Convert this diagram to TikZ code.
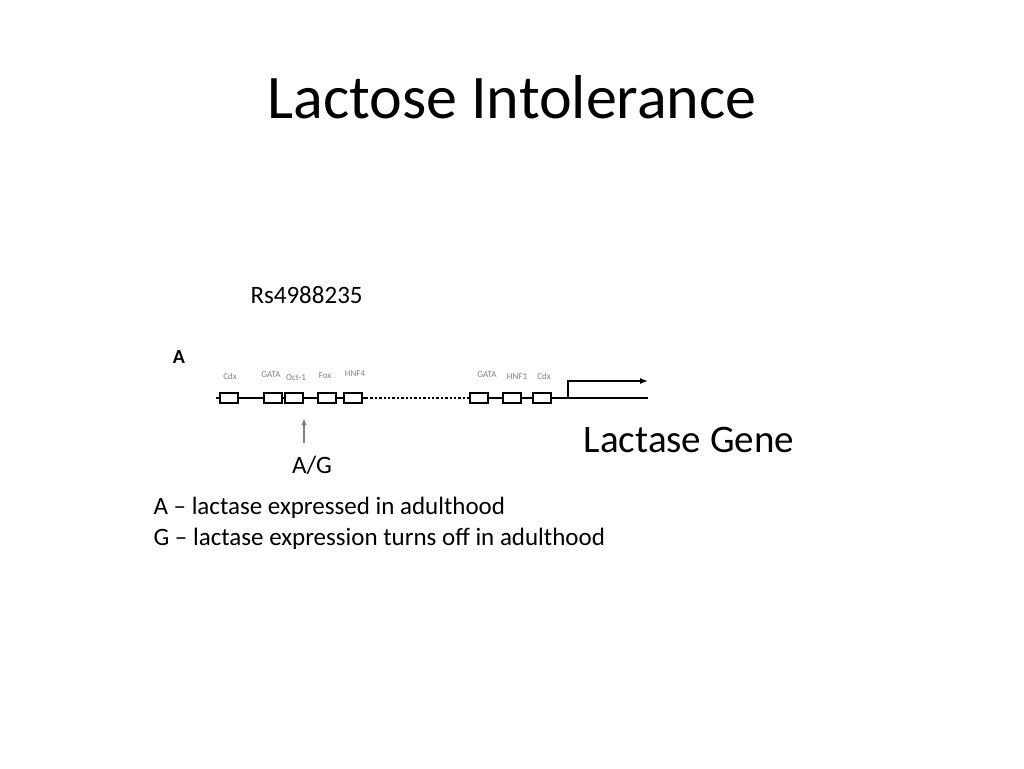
\documentclass[tikz,border=0pt]{standalone}
\usepackage{fontspec}
\setmainfont{Carlito}
\usetikzlibrary{arrows.meta}
\begin{document}
\begin{tikzpicture}[x=1pt, y=-1pt,
	site/.style={draw, line width=2.4pt, minimum width=18pt, minimum height=10pt, inner sep=0pt},
	tag/.style={font=\fontsize{9}{9}\selectfont, text=gray, inner sep=0pt}]

	\def\lineY{398}

	\useasboundingbox (0,0) rectangle (1024,768);

	% Title
	\node (title) at (512,97) {\fontsize{62}{66}\selectfont Lactose Intolerance};
	\node[anchor=west] (snp) at (247,295) {\fontsize{25}{28}\selectfont Rs4988235};
	\node[font=\bfseries\fontsize{20}{20}\selectfont] (panel) at (179,357) {A};

	% Gene line
	\draw[line width=2.4pt] (216,\lineY) -- (366,\lineY);
	\draw[line width=2.4pt, dotted] (366,\lineY) -- (470,\lineY);
	\draw[line width=2.4pt] (470,\lineY) -- (648,\lineY);

	% Binding sites
	\foreach \px/\nm in {229/a, 273/b, 294/c, 327/d, 353/e, 479/f, 512/g, 542/h}
		\node[site, fill=white] (\nm) at (\px,\lineY) {};

	\node[tag] at (230,376) {Cdx};
	\node[tag] at (271,375) {GATA};
	\node[tag] at (296,378) {Oct-1};
	\node[tag] at (325,376) {Fox};
	\node[tag] at (355,374) {HNF4};
	\node[tag] at (487,375) {GATA};
	\node[tag] at (517,377) {HNF1};
	\node[tag] at (544,376) {Cdx};

	% Transcription start
	\draw[line width=1.4pt, -{Latex[length=8pt]}] (568,\lineY) -- (568,381) -- (648,381);

	% SNP
	\node (ag) at (312,465) {\fontsize{25}{28}\selectfont A/G};
	\coordinate (agtop) at (304,418);
	\draw[gray, line width=1.2pt, -{Latex[length=7pt]}] (304,443) -- (agtop);

	\node (gene) at (689,440) {\fontsize{39}{42}\selectfont Lactase Gene};

	\node[anchor=west, align=left, font=\fontsize{25}{31}\selectfont] (legend) at (150,523)
		{A -- lactase expressed in adulthood\\
		 G -- lactase expression turns off in adulthood};

\end{tikzpicture}
\end{document}
